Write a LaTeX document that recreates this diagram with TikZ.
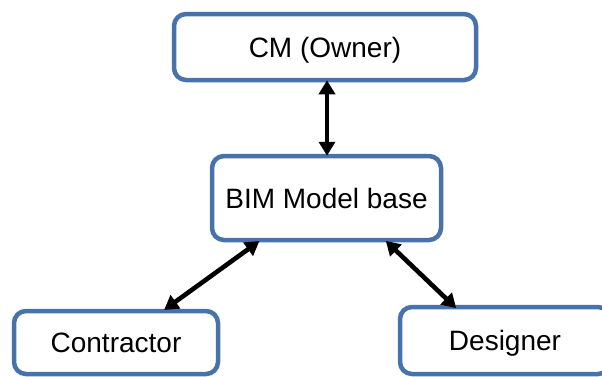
\documentclass[tikz,border=0pt]{standalone}
\usepackage{fontspec}
\setmainfont{Liberation Sans}
\usetikzlibrary{arrows.meta}
\definecolor{boxblue}{RGB}{72,115,170}
\begin{document}
\begin{tikzpicture}[x=1pt,y=-1pt,
  box/.style={draw=boxblue, line width=4.5pt, rounded corners=12pt, fill=white,
    inner sep=0pt, text height=20pt, text depth=0pt,
    font=\fontsize{28}{33}\selectfont},
  link/.style={line width=4.6pt, {Triangle[length=14pt,width=16pt]}-{Triangle[length=14pt,width=16pt]},
    shorten <=-2pt, shorten >=-2pt}]
  \useasboundingbox (0,0) rectangle (602,376);
  \clip (0,0) rectangle (602,376);
  \fill[white] (0,0) rectangle (602,376);
  % the four boxes
  \node[box, minimum width=302pt, minimum height=66pt] (cm) at (325,47) {CM (Owner)};
  \node[box, minimum width=229pt, minimum height=84pt] (bim) at (326.5,198) {BIM Model base};
  \node[box, minimum width=204pt, minimum height=63pt] (con) at (116,342.5) {Contractor};
  \node[box, minimum width=210pt, minimum height=67pt] (des) at (505,340.5) {Designer};
  % two-way links
  \draw[link] (cm.south) ++(2,0) coordinate (cmb) (cmb) -- (cmb |- bim.north);
  \draw[link] ([xshift=48pt]bim.south west) -- ([xshift=154pt]con.north west);
  \draw[link] ([xshift=-56pt]bim.south east) -- ([xshift=57pt,yshift=-2pt]des.north west);
\end{tikzpicture}
\end{document}
